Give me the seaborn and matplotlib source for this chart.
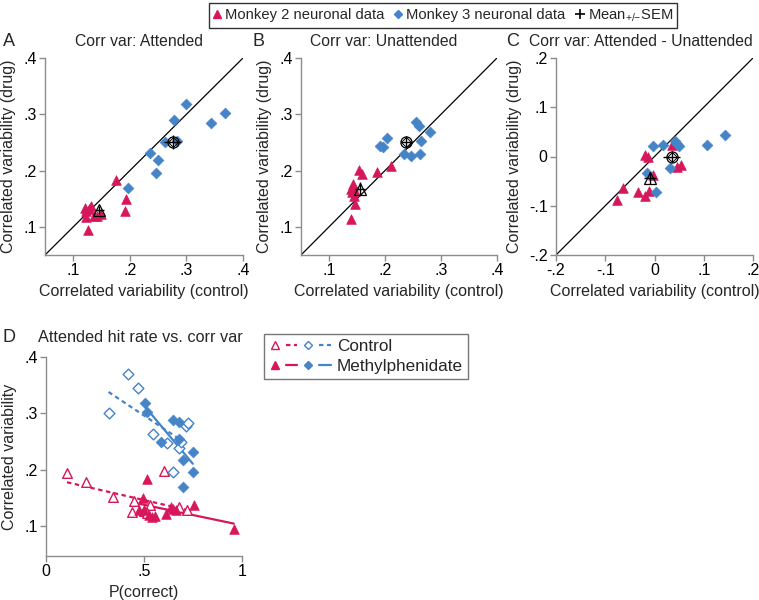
#!/usr/bin/env python3
"""Correlated variability under methylphenidate: scatter panels A-D."""

import matplotlib

matplotlib.use("Agg")
import matplotlib.pyplot as plt
import matplotlib.ticker as ticker
from matplotlib.legend_handler import HandlerTuple
from matplotlib.lines import Line2D
import seaborn as sns

PINK = "#D6175B"
BLUE = "#4584C7"
SPINE = "#8c8c8c"

# Panel A: attended corr var, control (x) vs drug (y)
A_M2_CTRL = [0.176, 0.194, 0.191, 0.126, 0.121, 0.122, 0.131, 0.123, 0.136, 0.142, 0.149, 0.127]
A_M2_DRUG = [0.184, 0.150, 0.129, 0.095, 0.134, 0.128, 0.137, 0.117, 0.119, 0.120, 0.122, 0.131]
A_M3_CTRL = [0.299, 0.278, 0.369, 0.343, 0.263, 0.283, 0.236, 0.250, 0.246, 0.196]
A_M3_DRUG = [0.318, 0.289, 0.303, 0.285, 0.250, 0.253, 0.232, 0.219, 0.196, 0.169]
A_MEAN_X = [0.146, 0.276]
A_MEAN_Y = [0.130, 0.251]
A_SEM_X = [0.008, 0.015]
A_SEM_Y = [0.007, 0.013]

# Panel B: unattended
B_M2_CTRL = [0.153, 0.159, 0.185, 0.210, 0.143, 0.139, 0.141, 0.145, 0.146, 0.140, 0.143, 0.147]
B_M2_DRUG = [0.201, 0.194, 0.198, 0.209, 0.177, 0.168, 0.162, 0.155, 0.140, 0.114, 0.173, 0.163]
B_M3_CTRL = [0.255, 0.260, 0.280, 0.265, 0.204, 0.191, 0.197, 0.234, 0.246, 0.262]
B_M3_DRUG = [0.286, 0.280, 0.269, 0.253, 0.257, 0.243, 0.242, 0.230, 0.226, 0.230]
B_MEAN_X = [0.155, 0.238]
B_MEAN_Y = [0.168, 0.251]
B_SEM_X = [0.009, 0.009]
B_SEM_Y = [0.011, 0.010]

# Panel C: attended - unattended
C_M2_CTRL = [0.035, -0.019, -0.014, -0.003, 0.045, 0.054, -0.064, -0.076, -0.034, -0.019, -0.012]
C_M2_DRUG = [0.024, 0.004, -0.001, -0.037, -0.022, -0.018, -0.063, -0.088, -0.073, -0.081, -0.070]
C_M3_CTRL = [0.144, 0.106, -0.003, 0.017, 0.042, 0.046, 0.049, 0.031, -0.016, 0.003]
C_M3_DRUG = [0.043, 0.024, 0.021, 0.024, 0.032, 0.026, 0.021, -0.024, -0.034, -0.073]
C_MEAN_X = [-0.009, 0.035]
C_MEAN_Y = [-0.043, 0.000]
C_SEM_X = [0.012, 0.017]
C_SEM_Y = [0.012, 0.012]

# Panel D: attended hit rate vs corr var
D_M2_CTRL_P = [0.107, 0.202, 0.344, 0.449, 0.437, 0.500, 0.530, 0.517, 0.603, 0.678, 0.717]
D_M2_CTRL_CV = [0.194, 0.179, 0.152, 0.144, 0.125, 0.127, 0.137, 0.124, 0.197, 0.134, 0.129]
D_M2_DRUG_P = [0.514, 0.497, 0.475, 0.500, 0.525, 0.542, 0.556, 0.612, 0.636, 0.661, 0.753, 0.958, 0.650]
D_M2_DRUG_CV = [0.184, 0.150, 0.129, 0.128, 0.119, 0.116, 0.118, 0.122, 0.134, 0.128, 0.138, 0.095, 0.131]
D_M3_CTRL_P = [0.420, 0.471, 0.319, 0.544, 0.619, 0.647, 0.678, 0.712, 0.725, 0.690]
D_M3_CTRL_CV = [0.369, 0.345, 0.300, 0.264, 0.247, 0.196, 0.239, 0.278, 0.283, 0.250]
D_M3_DRUG_P = [0.505, 0.514, 0.646, 0.680, 0.588, 0.678, 0.749, 0.700, 0.749, 0.700]
D_M3_DRUG_CV = [0.319, 0.303, 0.289, 0.285, 0.249, 0.254, 0.232, 0.218, 0.196, 0.169]

W, H = 759.0, 600.0
LABEL_FS = 11.5
TICK_FS = 11.5


def stata_fmt(v, pos):
    s = "%g" % round(v, 3)
    return s.replace("0.", ".")


def style_axes(ax, lim, ticks):
    ax.set_xlim(*lim)
    ax.set_ylim(*lim)
    ax.set_xticks(ticks)
    ax.set_yticks(ticks)
    for side in ("top", "right"):
        ax.spines[side].set_visible(False)
    for side in ("left", "bottom"):
        ax.spines[side].set_color(SPINE)
        ax.spines[side].set_linewidth(1.0)
    ax.tick_params(colors=SPINE, labelcolor="black", labelsize=TICK_FS, length=4, width=1, pad=2)
    ax.xaxis.set_major_formatter(ticker.FuncFormatter(stata_fmt))
    ax.yaxis.set_major_formatter(ticker.FuncFormatter(stata_fmt))


def headings(fig, title, title_x, letter, letter_x, y):
    fig.text(title_x / W, 1 - y / H, title, fontsize=11.3, ha="center", va="center")
    fig.text(letter_x / W, 1 - y / H, letter, fontsize=13, ha="left", va="center")


def scatter_panel(ax, m2x, m2y, m3x, m3y, mx, my, sx, sy, lim, ticks):
    ax.plot(lim, lim, color="black", lw=0.9, zorder=1)
    sns.scatterplot(x=m2x, y=m2y, marker="^", s=48, color=PINK, edgecolor=PINK,
                    linewidth=0.5, ax=ax, zorder=3)
    sns.scatterplot(x=m3x, y=m3y, marker="D", s=30, color=BLUE, edgecolor=BLUE,
                    linewidth=0.5, ax=ax, zorder=3)
    ax.errorbar(mx, my, xerr=sx, yerr=sy, fmt="none", ecolor="black", elinewidth=1.0,
                capsize=0, zorder=4)
    ax.plot(mx[0], my[0], marker="^", ms=9, mfc="none", mec="black", mew=0.9, ls="none", zorder=5)
    ax.plot(mx[1], my[1], marker="o", ms=8, mfc="none", mec="black", mew=0.9, ls="none", zorder=5)
    ax.plot(mx[1], my[1], marker="D", ms=5, mfc="none", mec="black", mew=0.7, ls="none", zorder=5)
    style_axes(ax, lim, ticks)
    ax.set_xlabel("Correlated variability (control)", fontsize=LABEL_FS, labelpad=4)
    ax.set_ylabel("Correlated variability (drug)", fontsize=LABEL_FS, labelpad=5)


def main():
    sns.set_style("ticks")
    plt.rcParams["font.family"] = ["Liberation Sans", "DejaVu Sans"]
    plt.rcParams["mathtext.fontset"] = "custom"
    plt.rcParams["mathtext.rm"] = "Liberation Sans"

    fig = plt.figure(figsize=(W / 100, H / 100), dpi=100)
    ax_a = fig.add_axes([45 / W, 1 - 255 / H, 198 / W, 197 / H])
    ax_b = fig.add_axes([301 / W, 1 - 255 / H, 196 / W, 197 / H])
    ax_c = fig.add_axes([556 / W, 1 - 255 / H, 197 / W, 197 / H])
    ax_d = fig.add_axes([46 / W, 1 - 556 / H, 196 / W, 199 / H])

    scatter_panel(ax_a, A_M2_CTRL, A_M2_DRUG, A_M3_CTRL, A_M3_DRUG, A_MEAN_X, A_MEAN_Y,
                  A_SEM_X, A_SEM_Y, (0.05, 0.4), [0.1, 0.2, 0.3, 0.4])
    scatter_panel(ax_b, B_M2_CTRL, B_M2_DRUG, B_M3_CTRL, B_M3_DRUG, B_MEAN_X, B_MEAN_Y,
                  B_SEM_X, B_SEM_Y, (0.05, 0.4), [0.1, 0.2, 0.3, 0.4])
    scatter_panel(ax_c, C_M2_CTRL, C_M2_DRUG, C_M3_CTRL, C_M3_DRUG, C_MEAN_X, C_MEAN_Y,
                  C_SEM_X, C_SEM_Y, (-0.2, 0.2), [-0.2, -0.1, 0.0, 0.1, 0.2])
    headings(fig, "Corr var: Attended", 139, "A", 3, 41)
    headings(fig, "Corr var: Unattended", 384, "B", 253, 41)
    headings(fig, "Corr var: Attended - Unattended", 641, "C", 506, 41)

    # Panel D
    ax = ax_d
    dash = (0, (2.0, 1.6))
    sns.regplot(x=D_M2_CTRL_P, y=D_M2_CTRL_CV, scatter=False, ci=None, ax=ax,
                line_kws={"color": PINK, "lw": 1.6, "ls": dash})
    sns.regplot(x=D_M3_CTRL_P, y=D_M3_CTRL_CV, scatter=False, ci=None, ax=ax,
                line_kws={"color": BLUE, "lw": 1.6, "ls": dash})
    sns.regplot(x=D_M2_DRUG_P, y=D_M2_DRUG_CV, scatter=False, ci=None, ax=ax,
                line_kws={"color": PINK, "lw": 1.6})
    sns.regplot(x=D_M3_DRUG_P, y=D_M3_DRUG_CV, scatter=False, ci=None, ax=ax,
                line_kws={"color": BLUE, "lw": 1.6})
    sns.scatterplot(x=D_M2_CTRL_P, y=D_M2_CTRL_CV, marker="^", s=48, facecolor="white",
                    edgecolor=PINK, linewidth=1.0, ax=ax, zorder=3)
    sns.scatterplot(x=D_M3_CTRL_P, y=D_M3_CTRL_CV, marker="D", s=30, facecolor="white",
                    edgecolor=BLUE, linewidth=1.0, ax=ax, zorder=3)
    sns.scatterplot(x=D_M2_DRUG_P, y=D_M2_DRUG_CV, marker="^", s=48, color=PINK,
                    edgecolor=PINK, linewidth=0.5, ax=ax, zorder=4)
    sns.scatterplot(x=D_M3_DRUG_P, y=D_M3_DRUG_CV, marker="D", s=30, color=BLUE,
                    edgecolor=BLUE, linewidth=0.5, ax=ax, zorder=4)
    style_axes(ax, (0, 1), [0, 0.5, 1])
    ax.set_ylim(0.047, 0.4)
    ax.set_yticks([0.1, 0.2, 0.3, 0.4])
    ax.set_xlabel("P(correct)", fontsize=LABEL_FS, labelpad=4)
    ax.set_ylabel("Correlated variability", fontsize=LABEL_FS, labelpad=5)
    fig.text(140 / W, 1 - 338 / H, "Attended hit rate vs. corr var", fontsize=11.7,
             ha="center", va="center")
    fig.text(3 / W, 1 - 338 / H, "D", fontsize=13, ha="left", va="center")

    # top legend
    top_handles = [
        Line2D([], [], marker="^", color=PINK, ls="none", ms=6),
        Line2D([], [], marker="D", color=BLUE, ls="none", ms=4.5),
        Line2D([], [], marker="+", color="black", ls="none", ms=7, mew=1.2),
    ]
    top_labels = ["Monkey 2 neuronal data", "Monkey 3 neuronal data",
                  r"Mean$_{\mathrm{{+}/{-}}}$SEM"]
    leg = fig.legend(top_handles, top_labels, loc="center", bbox_to_anchor=(443 / W, 1 - 15.5 / H),
                     ncol=3, fontsize=10.6, frameon=True, fancybox=False,
                     handlelength=0.5, handletextpad=0.3, columnspacing=0.7,
                     borderpad=0.3)
    leg.get_frame().set_edgecolor("black")
    leg.get_frame().set_linewidth(1.0)

    # panel D legend
    def group(fill, ls):
        return (
            Line2D([], [], marker="^", ls="none", ms=6, mec=PINK, mfc=PINK if fill else "white", mew=1.0),
            Line2D([], [], color=PINK, ls=ls, lw=1.6),
            Line2D([], [], marker="D", ls="none", ms=4.5, mec=BLUE, mfc=BLUE if fill else "white", mew=1.0),
            Line2D([], [], color=BLUE, ls=ls, lw=1.6),
        )

    leg_d = fig.legend([group(False, dash), group(True, "-")], ["Control", "Methylphenidate"],
                       handler_map={tuple: HandlerTuple(ndivide=None, pad=0.3)},
                       loc="center", bbox_to_anchor=(366 / W, 1 - 356.5 / H), fontsize=12.3,
                       frameon=True, fancybox=False, handlelength=3.6, handletextpad=0.35,
                       borderpad=0.3, labelspacing=0.25, borderaxespad=0)
    leg_d.get_frame().set_edgecolor("#555555")
    leg_d.get_frame().set_linewidth(1.0)

    fig.savefig("out.png", dpi=100)
    plt.close(fig)


if __name__ == "__main__":
    main()
